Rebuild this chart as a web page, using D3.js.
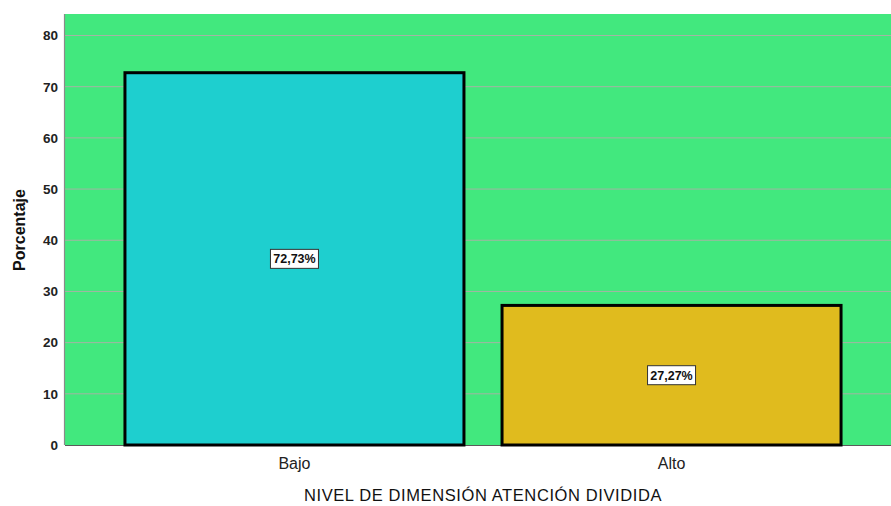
<!DOCTYPE html>
<html><head><meta charset="utf-8">
<script src="https://cdn.jsdelivr.net/npm/d3@7"></script>
<style>body{margin:0;background:#fff}svg{display:block}</style>
</head><body>
<svg id="c" width="891" height="506"></svg>
<script>
const categories = ["Bajo", "Alto"];
const values = [72.73, 27.27];
const labels = ["72,73%", "27,27%"];
const yTicks = [0, 10, 20, 30, 40, 50, 60, 70, 80];
const colors = ["#1ecfcf", "#e0bb1e"];

const svg = d3.select("#c");
const F = "Liberation Sans, Arial, sans-serif";
const L = 65, R = 901, T = 14, B = 445;
const y = d3.scaleLinear().domain([0, 80]).range([B, 35.5]);
const x = d3.scaleBand().domain(categories).range([L, R]).paddingInner(0.101).paddingOuter(0.159);

svg.append("rect").attr("x", L).attr("y", T).attr("width", R - L).attr("height", B - T).attr("fill", "#42e87e");

svg.append("g").selectAll("line").data(yTicks.filter(d => d > 0)).join("line")
  .attr("x1", L).attr("x2", R).attr("y1", d => y(d)).attr("y2", d => y(d))
  .attr("stroke", "#a4b4a4").attr("stroke-width", 1);

svg.append("line").attr("x1", L - 0.5).attr("x2", L - 0.5).attr("y1", T).attr("y2", B).attr("stroke", "#8a8a8a").attr("stroke-width", 1.2);
svg.append("line").attr("x1", L).attr("x2", R).attr("y1", B + 0.5).attr("y2", B + 0.5).attr("stroke", "#5a5a5a").attr("stroke-width", 1.2);

svg.append("g").selectAll("rect").data(categories).join("rect")
  .attr("x", d => x(d)).attr("width", x.bandwidth())
  .attr("y", (d, i) => y(values[i])).attr("height", (d, i) => B - y(values[i]))
  .attr("fill", (d, i) => colors[i]).attr("stroke", "#000").attr("stroke-width", 3);

svg.append("g").selectAll("text").data(yTicks).join("text")
  .attr("x", 58).attr("y", d => y(d)).attr("dy", "0.36em").attr("text-anchor", "end")
  .attr("font-family", F).attr("font-size", 13.5).attr("font-weight", "bold")
  .attr("fill", "#222").text(d => d);

svg.append("g").selectAll("text").data(categories).join("text")
  .attr("x", d => x(d) + x.bandwidth() / 2).attr("y", 469).attr("text-anchor", "middle")
  .attr("font-family", F).attr("font-size", 16)
  .attr("fill", "#222").text(d => d);

const lg = svg.append("g").selectAll("g").data(categories).join("g")
  .attr("transform", (d, i) => `translate(${x(d) + x.bandwidth() / 2},${y(values[i] / 2)})`);
lg.append("rect").attr("x", -24).attr("y", -9.5).attr("width", 48).attr("height", 19)
  .attr("fill", "#fff").attr("stroke", "#333").attr("stroke-width", 1);
lg.append("text").attr("text-anchor", "middle").attr("dy", "0.36em")
  .attr("font-family", F).attr("font-size", 12.5).attr("font-weight", "bold")
  .attr("fill", "#111").text((d, i) => labels[i]);

svg.append("text").attr("x", 483).attr("y", 501).attr("text-anchor", "middle")
  .attr("font-family", F).attr("font-size", 16.5).attr("letter-spacing", 0.6)
  .attr("fill", "#111").text("NIVEL DE DIMENSIÓN ATENCIÓN DIVIDIDA");

svg.append("text").attr("transform", "translate(25,230) rotate(-90)").attr("text-anchor", "middle")
  .attr("font-family", F).attr("font-size", 16).attr("font-weight", "bold")
  .attr("fill", "#111").text("Porcentaje");
</script>
</body></html>
